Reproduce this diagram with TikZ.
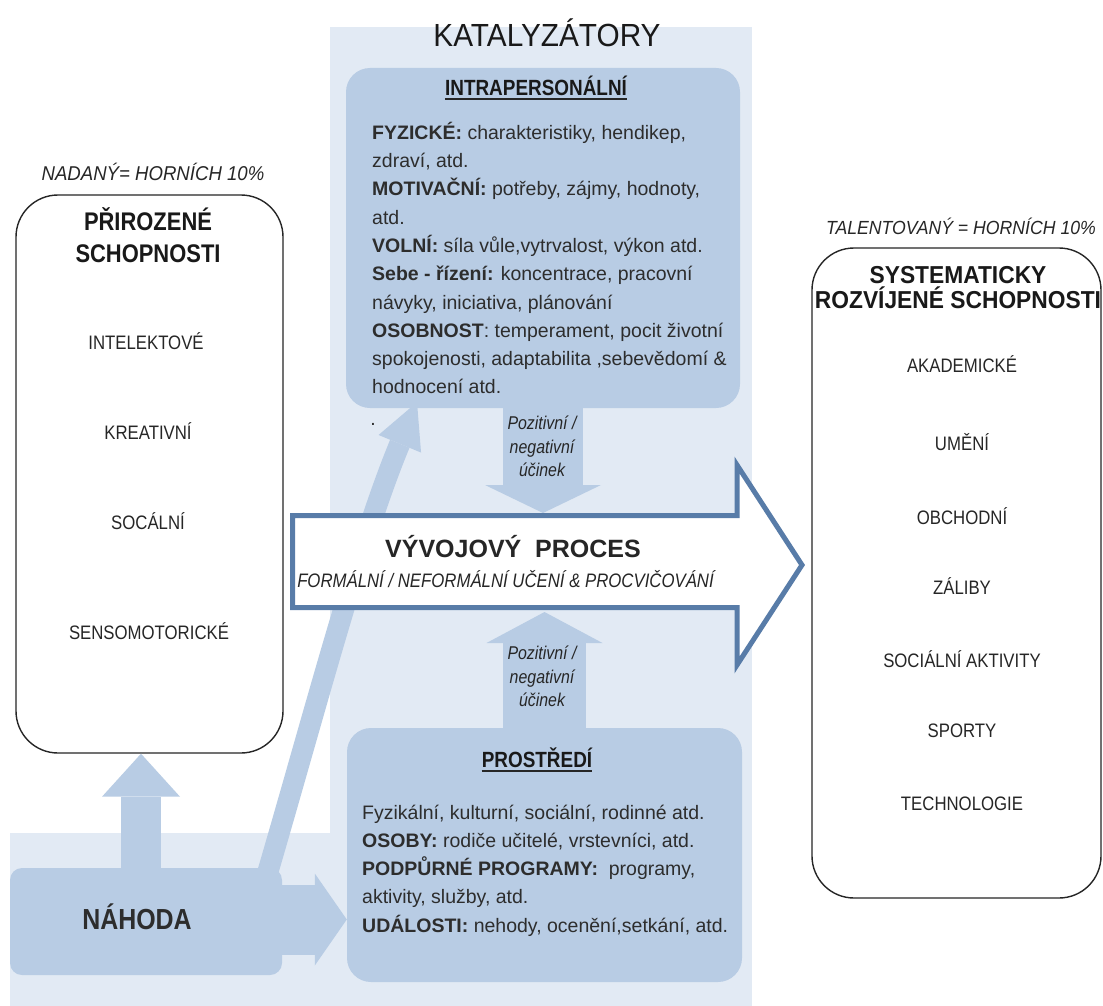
\documentclass[tikz,border=0pt]{standalone}
\usepackage{fontspec}
\setmainfont{Liberation Sans}
\newfontfamily\cnd[FakeStretch=0.86]{Liberation Sans}
\newfontfamily\cnda[FakeStretch=0.93]{Liberation Sans}
\usetikzlibrary{arrows.meta,calc}
\definecolor{panelbg}{RGB}{226,234,244}
\definecolor{boxfill}{RGB}{184,204,228}
\definecolor{procblue}{RGB}{88,124,168}
\definecolor{txt}{RGB}{45,45,45}
\tikzset{
  whitebox/.style={draw=black!85, line width=1.4pt, fill=white, rounded corners=42pt, inner sep=0pt},
  bluebox/.style={fill=boxfill, rounded corners=24pt, inner sep=0pt},
  blockarrow/.style={draw=boxfill, line cap=butt},
  ttl/.style={font=\cnd\bfseries\fontsize{25.5}{30}\selectfont, anchor=base, inner sep=0pt, text=black!90},
  rttl/.style={font=\cnda\bfseries\fontsize{24.5}{28}\selectfont, anchor=base, inner sep=0pt, text=black!90},
  itemtext/.style={font=\cnd\fontsize{19.5}{22}\selectfont, anchor=base, inner sep=0pt, text=black!85},
  pctext/.style={font=\cnda\itshape\fontsize{20}{24}\selectfont, anchor=base, inner sep=0pt, text=black!85},
  subttl/.style={font=\cnd\bfseries\fontsize{22}{26}\selectfont, anchor=base, inner sep=0pt, text=black!90},
  bodytext/.style={font=\fontsize{19.5}{28.3}\selectfont, anchor=north west, align=left, inner sep=0pt, text=txt},
  effect/.style={font=\cnd\itshape\fontsize{18.5}{22}\selectfont, anchor=base, inner sep=0pt, text=black!85},
}
\begin{document}
\begin{tikzpicture}[x=1pt,y=-1pt]
\useasboundingbox (0,0) rectangle (1103,1006);
\fill[white] (0,0) rectangle (1103,1006);
% background panels
\fill[panelbg] (330,27) rectangle (752,1006);
\fill[panelbg] (10,833) rectangle (752,1006);

% boxes
\node[whitebox, minimum width=267pt, minimum height=558pt] (leftbox) at (149.5,474) {};
\node[whitebox, minimum width=289pt, minimum height=650pt] (rightbox) at (956.5,573) {};
\node[bluebox, minimum width=394pt, minimum height=340pt] (intra) at (543,238) {};
\node[bluebox, minimum width=395pt, minimum height=254pt] (prostredi) at (544.5,855) {};
\node[bluebox, rounded corners=12pt, minimum width=272pt, minimum height=107pt] (nahoda) at (146,921.5) {};

% connector coordinates
\coordinate (nup0) at ([shift={(-5pt,-3pt)}]nahoda.north);
\coordinate (nup1) at (nup0 |- leftbox.south);
\coordinate (nr0) at ([shift={(-3pt,2pt)}]nahoda.east);
\coordinate (nr1) at (nr0 -| prostredi.west);
\coordinate (proctop) at (543,513);
\coordinate (pb0) at ([yshift=-3pt]prostredi.north);
\coordinate (procbot) at (544.5,612);
\coordinate (cb0) at ([shift={(-14pt,-3pt)}]nahoda.north east);
\coordinate (cb1) at ([shift={(-126pt,6pt)}]intra.south);

% block arrows
\draw[blockarrow, line width=21pt, -{Triangle[length=45pt,width=46pt,line width=0pt]}]
  (cb0) .. controls (318,700) and (360,540) .. (cb1);
\draw[blockarrow, line width=40pt, -{Triangle[length=43pt,width=78pt,line width=0pt]}] (nup0) -- (nup1);
\draw[blockarrow, line width=70pt, -{Triangle[length=32pt,width=92pt,line width=0pt]}] (nr0) -- (nr1);
\draw[blockarrow, line width=80pt, -{Triangle[length=28pt,width=116pt,line width=0pt]}] ([yshift=3pt]intra.south) -- (proctop);
\draw[blockarrow, line width=83pt, -{Triangle[length=31pt,width=116pt,line width=0pt]}] (pb0) -- (procbot);

% big process arrow
\draw[procblue, line width=5pt, fill=white, line join=miter]
  (292.5,515.5) -- (737,515.5) -- (737,465) -- (802,565) -- (737,665) -- (737,607.5) -- (292.5,607.5) -- cycle;
\node[font=\bfseries\fontsize{25}{30}\selectfont, anchor=base, inner sep=0pt, text=black!85] (proc) at (513,557) {VÝVOJOVÝ\ \ PROCES};
\node[font=\cnd\itshape\fontsize{19.5}{24}\selectfont, anchor=base, inner sep=0pt, text=black!85] (procsub) at (505.5,587) {FORMÁLNÍ / NEFORMÁLNÍ UČENÍ \& PROCVIČOVÁNÍ};

% title
\node[font=\cnda\fontsize{32}{36}\selectfont, anchor=base, inner sep=0pt, text=black!90] (katal) at (547,46.5) {KATALYZÁTORY};

% left box
\node[pctext] (nadany) at (153,180.3) {NADANÝ= HORNÍCH 10\%};
\node[ttl] (pr1) at (148,230) {PŘIROZENÉ};
\node[ttl] (pr2) at (148,262) {SCHOPNOSTI};
\node[itemtext] (l1) at (146,349) {INTELEKTOVÉ};
\node[itemtext] (l2) at (148,439) {KREATIVNÍ};
\node[itemtext] (l3) at (148,529) {SOCÁLNÍ};
\node[itemtext] (l4) at (149,639) {SENSOMOTORICKÉ};

% right box
\node[pctext, font=\cnda\itshape\fontsize{19}{22}\selectfont] (talent) at (961,234.8) {TALENTOVANÝ = HORNÍCH 10\%};
\node[rttl] (sr1) at (958,283.5) {SYSTEMATICKY};
\node[rttl] (sr2) at (958,308.5) {ROZVÍJENÉ SCHOPNOSTI};
\node[itemtext] (r1) at (962,372) {AKADEMICKÉ};
\node[itemtext] (r2) at (962,450) {UMĚNÍ};
\node[itemtext] (r3) at (962,524) {OBCHODNÍ};
\node[itemtext] (r4) at (962,594) {ZÁLIBY};
\node[itemtext] (r5) at (962,667) {SOCIÁLNÍ AKTIVITY};
\node[itemtext] (r6) at (962,737) {SPORTY};
\node[itemtext] (r7) at (962,810) {TECHNOLOGIE};

% intrapersonal
\node[subttl] (intratitle) at (536,95.9) {INTRAPERSONÁLNÍ};
\draw[line width=1.5pt, black!85] ([yshift=-3pt]intratitle.base west) -- ([yshift=-3pt]intratitle.base east);
\node[bodytext] (intratext) at (372,115) {\rule{0pt}{24pt}\textbf{FYZICKÉ:} charakteristiky, hendikep,\\
zdraví, atd.\\
\textbf{MOTIVAČNÍ:} potřeby, zájmy, hodnoty,\\
atd.\\
\textbf{VOLNÍ:} síla vůle,vytrvalost, výkon atd.\\
\textbf{Sebe - řízení:} koncentrace, pracovní\\
návyky, iniciativa, plánování\\
\textbf{OSOBNOST}: temperament, pocit životní\\
spokojenosti, adaptabilita ,sebevědomí \&\\
hodnocení atd.};
\node[font=\fontsize{19.5}{24}\selectfont, anchor=base, inner sep=0pt, text=txt] (dot) at (373,425) {.};

% effects
\node[effect] (e1a) at (542,429.6) {Pozitivní /};
\node[effect] (e1b) at (542,453.6) {negativní};
\node[effect] (e1c) at (542,476.6) {účinek};
\node[effect] (e2a) at (542,659.6) {Pozitivní /};
\node[effect] (e2b) at (542,683.6) {negativní};
\node[effect] (e2c) at (542,706.6) {účinek};

% prostredi
\node[subttl] (prtitle) at (537,767.9) {PROSTŘEDÍ};
\draw[line width=1.5pt, black!85] ([yshift=-3pt]prtitle.base west) -- ([yshift=-3pt]prtitle.base east);
\node[bodytext, font=\fontsize{19.5}{28.2}\selectfont] (prtext) at (362,795) {\rule{0pt}{24pt}Fyzikální, kulturní, sociální, rodinné atd.\\
\textbf{OSOBY:} rodiče učitelé, vrstevníci, atd.\\
\textbf{PODPŮRNÉ PROGRAMY:}\ \ programy,\\
aktivity, služby, atd.\\
\textbf{UDÁLOSTI:} nehody, ocenění,setkání, atd.};

% nahoda
\node[font=\cnd\bfseries\fontsize{29}{34}\selectfont, anchor=base, inner sep=0pt, text=txt] (nahodatext) at (137,929.4) {NÁHODA};
\end{tikzpicture}
\end{document}
